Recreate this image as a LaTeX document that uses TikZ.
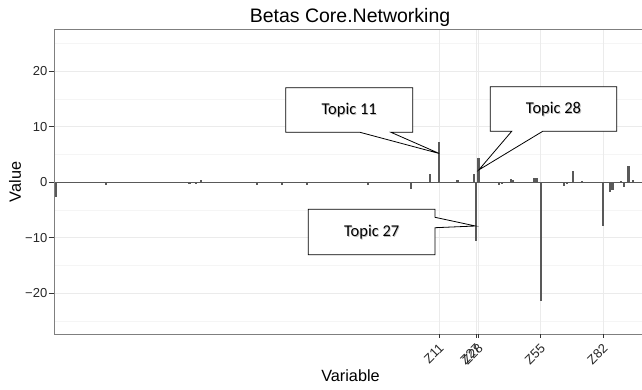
\documentclass[tikz,border=0pt]{standalone}
\usepackage{fontspec}
\setmainfont{Liberation Sans}
\newfontfamily\calibfont{Carlito}
\definecolor{barcol}{HTML}{595959}
\definecolor{gridmaj}{HTML}{EBEBEB}
\definecolor{gridmin}{HTML}{F5F5F5}
\definecolor{panelcol}{HTML}{7F7F7F}
\definecolor{tickcol}{HTML}{333333}
\begin{document}
\begin{tikzpicture}[x=1pt,y=-1pt,
  gridmajor/.style={draw=gridmaj, line width=0.9pt},
  gridminor/.style={draw=gridmin, line width=0.9pt},
  barstyle/.style={fill=barcol, draw=none},
  ytick/.style={font=\fontsize{13}{13}\selectfont, text=black!85, inner sep=0pt, anchor=east},
  xtick/.style={font=\fontsize{13}{13}\selectfont, text=black!85, inner sep=0pt, anchor=north east, rotate=45},
  tickline/.style={draw=tickcol, line width=0.8pt},
  callout/.style={draw=black, line width=0.8pt, fill=white, line join=miter},
  topic/.style={font=\calibfont\fontsize{16.5}{17}\selectfont, inner sep=0pt},
  topicshadow/.style={topic, text=black!25},
  axtitle/.style={font=\fontsize{16.25}{17}\selectfont, inner sep=0pt},
]
\useasboundingbox (0,0) rectangle (642,389);
% grid
\foreach \v in {-25,-15,-5,5,15,25}
  \draw[gridminor] (54.3,{182.3-5.55*\v}) -- (642,{182.3-5.55*\v});
\foreach \v in {-20,-10,0,10,20}
  \draw[gridmajor] (54.3,{182.3-5.55*\v}) -- (642,{182.3-5.55*\v});
\foreach \gx in {439.3,476.2,478.5,540.8,603.3}
  \draw[gridmajor] (\gx,29.3) -- (\gx,334);
% zero line
\draw[draw=barcol, line width=0.9pt] (54.3,182.3) -- (642,182.3);
% bars
\foreach \bx/\bv in {55.7/-2.6,106.3/-0.5,189.5/-0.3,196.3/-0.3,201.2/0.4,256.7/-0.4,
  282.2/-0.4,284.6/-0.2,307.4/-0.4,367.7/-0.5,411.4/-1.2,430.2/1.5,439.3/7.3,
  457.5/0.4,473.6/1.5,476.2/-10.5,478.5/4.4,499.3/-0.4,501.9/-0.3,506.1/-0.1,
  510.7/0.6,513.3/0.4,534.2/0.7,536.5/0.8,540.8/-21.4,564.1/-0.6,567.4/-0.3,
  573.3/2.0,582.2/0.3,603.3/-7.8,610.0/-1.7,612.5/-1.3,621.3/0.3,624.0/-0.8,
  628.5/2.9,633.2/0.4}
  \fill[barstyle] ({\bx-1.05},182.3) rectangle ({\bx+1.05},{182.3-5.55*\bv});
% panel border
\draw[draw=panelcol, line width=0.9pt] (642,29.3) -- (54.3,29.3) -- (54.3,334) -- (642,334);
% y ticks
\foreach \v/\lab in {20/20,10/10,0/0,-10/−10,-20/−20} {
  \draw[tickline] (48.5,{182.3-5.55*\v}) -- (54.3,{182.3-5.55*\v});
  \node[ytick] (yt\v) at (47.5,{182.3-5.55*\v}) {\lab};
}
% x ticks
\foreach \gx/\lab in {439.3/Z11,476.2/Z27,478.5/Z28,540.8/Z55,603.3/Z82} {
  \draw[tickline] (\gx,334) -- (\gx,337.8);
  \node[xtick] (xt\lab) at ({\gx-1.2},342.8) {\lab};
}
% titles
\node[font=\fontsize{19.5}{20}\selectfont, inner sep=0pt, anchor=base] (title) at (350,22.5) {Betas Core.Networking};
\node[axtitle, rotate=90] (ylab) at (15,182) {Value};
\node[axtitle] (xlab) at (350.5,376) {Variable};
% callouts
\coordinate (tip11) at (439.3,153.5);
\coordinate (tip28) at (478.7,170);
\coordinate (tip27) at (475.5,226);
\draw[callout] (285.7,87.7) -- (412.7,87.7) -- (412.7,132.3) -- (391,132.3) -- (tip11)
  -- (360,132.3) -- (285.7,132.3) -- cycle;
\draw[callout] (490.3,86.7) -- (616.7,86.7) -- (616.7,131.3) -- (542.7,131.3) -- (tip28)
  -- (511.7,131.3) -- (490.3,131.3) -- cycle;
\draw[callout] (308.3,209.3) -- (435,209.3) -- (435,217.3) -- (tip27) -- (435,227.7)
  -- (435,254.7) -- (308.3,254.7) -- cycle;
\node[topicshadow] (s11) at (350.0,111.0) {Topic 11};
\node[topic] (t11) at (349.2,110.2) {Topic 11};
\node[topicshadow] (s28) at (554.3,110.0) {Topic 28};
\node[topic] (t28) at (553.5,109.2) {Topic 28};
\node[topicshadow] (s27) at (372.5,233.3) {Topic 27};
\node[topic] (t27) at (371.7,232.5) {Topic 27};
\end{tikzpicture}
\end{document}
